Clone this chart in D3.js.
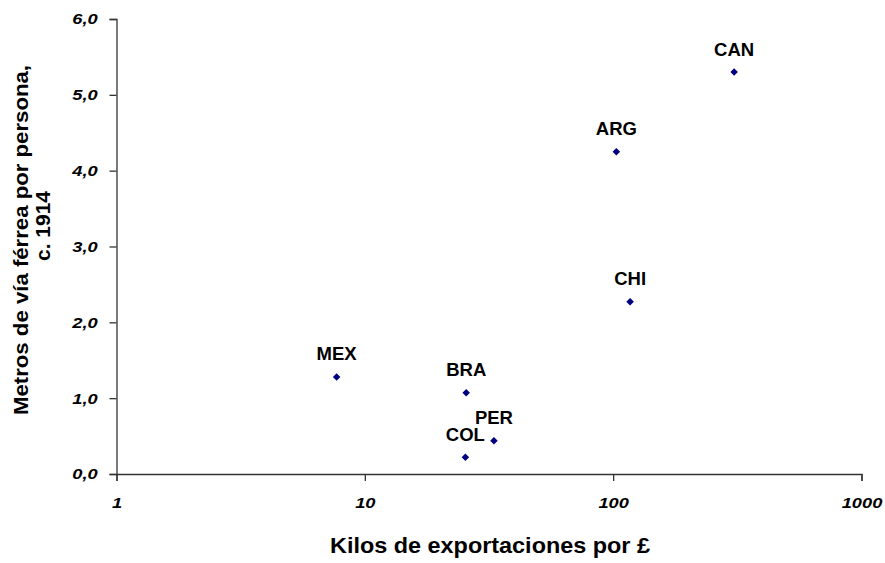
<!DOCTYPE html>
<html>
<head>
<meta charset="utf-8">
<script src="https://cdn.jsdelivr.net/npm/d3@7"></script>
<style>
  body { margin: 0; background: #ffffff; }
  text { font-family: "Liberation Sans", Arial, sans-serif; }
</style>
</head>
<body>
<div id="chart"></div>
<script>
// country codes and values
const paises = ["CAN", "ARG", "CHI", "MEX", "BRA", "PER", "COL"];
const kilosPorLibra = [307, 103, 117, 7.7, 25.6, 33.1, 25.4];
const metrosPorPersona = [5.30, 4.25, 2.27, 1.28, 1.07, 0.44, 0.22];

const xTicks = [1, 10, 100, 1000];
const yTicks = [0, 1, 2, 3, 4, 5, 6];

const w = 885, h = 563;

let svg = d3.select("#chart")
  .append("svg")
  .attr("width", w)
  .attr("height", h);

// log scale for exports, linear for railway metres
let xScale = d3.scaleLog()
  .domain([1, 1000])
  .range([116.5, 861.5]);

let yScale = d3.scaleLinear()
  .domain([0, 6])
  .range([474, 19]);

let fmt = d3.format(".1f");

let x_axis = d3.axisBottom(xScale)
  .tickValues(xTicks)
  .tickFormat(d3.format("d"))
  .tickSize(7)
  .tickPadding(16);

let y_axis = d3.axisLeft(yScale)
  .tickValues(yTicks)
  .tickFormat(d => fmt(d).replace(".", ","))
  .tickSize(7)
  .tickPadding(9);

// X-AXIS
let gx = svg.append("g")
  .attr("transform", "translate(0," + yScale(0) + ")")
  .call(x_axis);

// Y-AXIS
let gy = svg.append("g")
  .attr("transform", "translate(" + xScale(1) + ",0)")
  .call(y_axis);

[gx, gy].forEach(g => {
  g.select(".domain").attr("stroke", "#333333").attr("stroke-width", 1.3);
  g.selectAll(".tick line").attr("stroke", "#333333").attr("stroke-width", 1.3);
  // tick labels in the original are a bit wider than the font
  g.selectAll(".tick text")
    .attr("fill", "#000000")
    .attr("font-size", "15.5px")
    .attr("font-weight", "bold")
    .attr("font-style", "italic")
    .attr("font-family", "'Liberation Sans', Arial, sans-serif")
    .attr("transform", "scale(1.18,1)");
});

// points as small diamonds
let data = paises.map((p, i) => ({ pais: p, x: kilosPorLibra[i], y: metrosPorPersona[i] }));

svg.append("g").selectAll("path")
  .data(data)
  .enter().append("path")
  .attr("d", d3.symbol().type(d3.symbolDiamond2).size(36))
  .attr("transform", d => "translate(" + xScale(d.x) + "," + yScale(d.y) + ")")
  .style("fill", "#000080");

// country labels above each point
svg.append("g").selectAll("text")
  .data(data)
  .enter().append("text")
  .attr("x", d => xScale(d.x))
  .attr("y", d => yScale(d.y) - 16.5)
  .attr("text-anchor", "middle")
  .attr("font-size", "18.5px")
  .attr("font-weight", "bold")
  .attr("fill", "#000000")
  .text(d => d.pais);

// axis titles
svg.append("text")
  .attr("x", 490)
  .attr("y", 553)
  .attr("text-anchor", "middle")
  .attr("font-size", "21.5px")
  .attr("font-weight", "bold")
  .attr("textLength", 320)
  .attr("lengthAdjust", "spacingAndGlyphs")
  .text("Kilos de exportaciones por £");

svg.append("text")
  .attr("transform", "translate(28,240) rotate(-90)")
  .attr("text-anchor", "middle")
  .attr("font-size", "21px")
  .attr("font-weight", "bold")
  .attr("textLength", 350)
  .attr("lengthAdjust", "spacingAndGlyphs")
  .text("Metros de vía férrea por persona,");

svg.append("text")
  .attr("transform", "translate(50,226) rotate(-90)")
  .attr("text-anchor", "middle")
  .attr("font-size", "21px")
  .attr("font-weight", "bold")
  .text("c. 1914");
</script>
</body>
</html>
